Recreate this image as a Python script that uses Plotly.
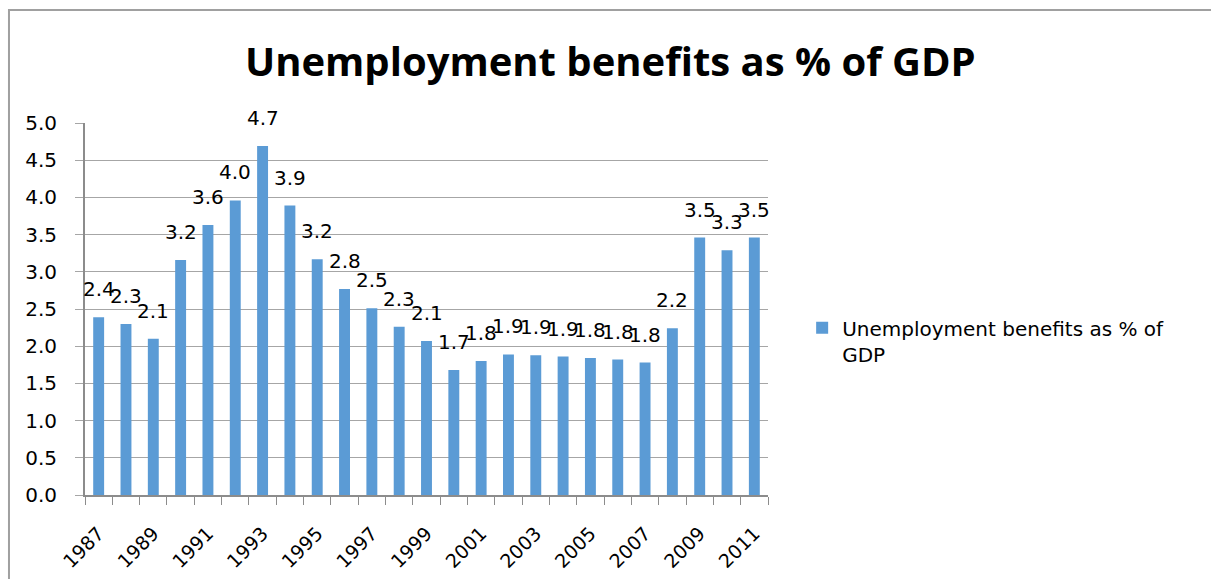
import plotly.graph_objects as go

# Unemployment benefits as a share of GDP, 1987-2011
years = list(range(1987, 2012))
benefits_pct_gdp = [2.39, 2.30, 2.10, 3.16, 3.63, 3.96, 4.69, 3.89, 3.17, 2.77,
                    2.51, 2.26, 2.07, 1.68, 1.80, 1.89, 1.88, 1.86, 1.84, 1.82,
                    1.78, 2.24, 3.46, 3.29, 3.46]
label_years = list(range(1987, 2012, 2))
series_name = "Unemployment benefits as % of GDP"

FONT = "'DejaVu Sans', sans-serif"
TITLE_FONT = "'Open Sans', sans-serif"
BAR = "#5b9bd5"
GRID = "#a6a6a6"
AXIS = "#8c8c8c"

fig = go.Figure()
fig.add_trace(go.Bar(
    x=years,
    y=benefits_pct_gdp,
    width=0.4,
    marker=dict(color=BAR, line=dict(width=0)),
    name="Unemployment benefits as % of<br>GDP",
    showlegend=True,
))

# value labels above each bar
for yr, v in zip(years, benefits_pct_gdp):
    fig.add_annotation(
        x=yr, y=v, text=f"{v:.1f}", showarrow=False,
        yanchor="bottom", xanchor="center", yshift=14,
        font=dict(family=FONT, size=20, color="#000000"),
    )

# chart frame
fig.add_shape(type="rect", xref="paper", yref="paper",
              x0=-0.1113, x1=1.66, y0=-0.25, y1=1.3038,
              line=dict(color="#a0a0a0", width=2), fillcolor="rgba(0,0,0,0)")

fig.update_layout(
    width=1211, height=579,
    margin=dict(l=85, r=443, t=123, b=84),
    paper_bgcolor="white", plot_bgcolor="white",
    font=dict(family=FONT, size=19, color="#000000"),
    title=dict(text="<b>Unemployment benefits as % of GDP</b>",
               x=0.504, xanchor="center", y=0.893, yanchor="middle",
               font=dict(family=TITLE_FONT, size=40, color="#000000")),
    legend=dict(x=1.05, xanchor="left", y=0.502, yanchor="top",
                valign="top",
                font=dict(family=FONT, size=20), bgcolor="rgba(0,0,0,0)",
                itemclick=False),
    bargap=0.6,
)

fig.update_xaxes(
    range=[1986.5, 2011.5],
    tickmode="array", tickvals=label_years, ticktext=[str(y) for y in label_years],
    tickangle=-45, ticks="", showgrid=False,
    ticklabelstandoff=18, automargin=False,
    showline=True, linecolor=AXIS, linewidth=2,
    minor=dict(ticks="outside", tickmode="array",
               tickvals=[y - 0.5 for y in years] + [2011.5],
               ticklen=8, tickcolor=AXIS, tickwidth=1, showgrid=False),
    tickfont=dict(family=FONT, size=19),
    zeroline=False,
)
fig.update_yaxes(
    range=[0, 5], dtick=0.5, tick0=0, tickformat=".1f",
    showgrid=True, gridcolor=GRID, gridwidth=1,
    ticks="outside", ticklen=8, tickcolor=GRID,
    ticklabelstandoff=14, automargin=False,
    showline=True, linecolor=AXIS, linewidth=2,
    zeroline=False,
    tickfont=dict(family=FONT, size=20),
)

fig.write_html("out.html")
